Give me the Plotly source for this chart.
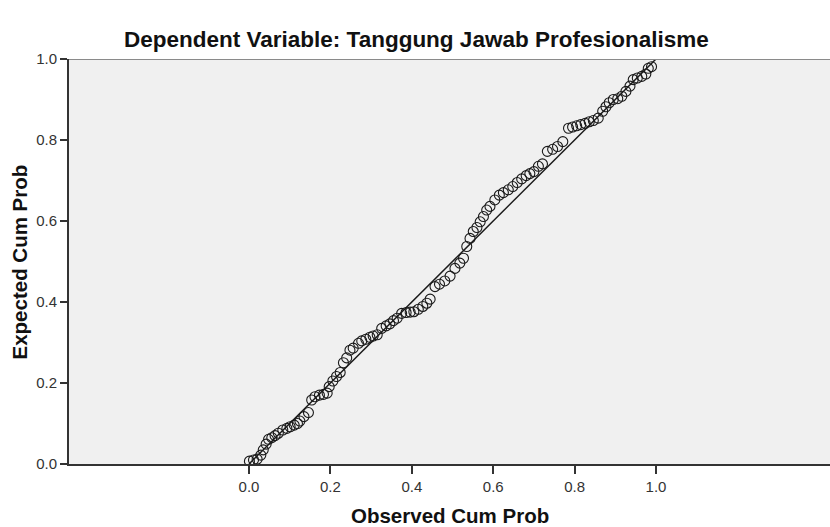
import plotly.graph_objects as go

# Normal P-P plot of regression standardized residuals
observed_cum_prob = [
    0.001, 0.011, 0.020, 0.029, 0.035, 0.042, 0.048, 0.056, 0.064, 0.072,
    0.083, 0.093, 0.101, 0.111, 0.119, 0.125, 0.135, 0.146, 0.154, 0.162,
    0.173, 0.183, 0.192, 0.197, 0.206, 0.215, 0.224, 0.232, 0.240, 0.248,
    0.256, 0.269, 0.277, 0.287, 0.297, 0.305, 0.315, 0.326, 0.337, 0.346,
    0.355, 0.364, 0.375, 0.386, 0.396, 0.405, 0.416, 0.427, 0.437, 0.445,
    0.457, 0.468, 0.481, 0.494, 0.506, 0.518, 0.527, 0.535, 0.543, 0.551,
    0.560, 0.568, 0.576, 0.584, 0.592, 0.604, 0.615, 0.625, 0.637, 0.648,
    0.659, 0.670, 0.681, 0.690, 0.700, 0.711, 0.721, 0.733, 0.746, 0.758,
    0.771, 0.785, 0.795, 0.805, 0.815, 0.826, 0.836, 0.846, 0.858, 0.869,
    0.877, 0.885, 0.895, 0.906, 0.916, 0.926, 0.936, 0.944, 0.954, 0.965,
    0.975, 0.981, 0.989,
]
expected_cum_prob = [
    0.007, 0.010, 0.012, 0.022, 0.035, 0.049, 0.061, 0.065, 0.070, 0.076,
    0.084, 0.088, 0.092, 0.096, 0.100, 0.106, 0.117, 0.127, 0.158, 0.166,
    0.170, 0.172, 0.175, 0.191, 0.205, 0.216, 0.226, 0.250, 0.262, 0.281,
    0.286, 0.298, 0.304, 0.308, 0.313, 0.316, 0.319, 0.335, 0.341, 0.346,
    0.354, 0.360, 0.372, 0.374, 0.375, 0.376, 0.382, 0.389, 0.397, 0.407,
    0.438, 0.444, 0.452, 0.464, 0.483, 0.496, 0.508, 0.537, 0.557, 0.574,
    0.584, 0.598, 0.611, 0.627, 0.636, 0.652, 0.664, 0.670, 0.677, 0.685,
    0.695, 0.704, 0.712, 0.717, 0.722, 0.735, 0.741, 0.772, 0.777, 0.784,
    0.796, 0.829, 0.832, 0.835, 0.838, 0.841, 0.845, 0.848, 0.854, 0.871,
    0.882, 0.892, 0.900, 0.902, 0.908, 0.920, 0.933, 0.949, 0.953, 0.957,
    0.963, 0.977, 0.981,
]
reference_line = [0.0, 1.0]
tick_values = [0.0, 0.2, 0.4, 0.6, 0.8, 1.0]
tick_labels = ["0.0", "0.2", "0.4", "0.6", "0.8", "1.0"]

title_text = "Dependent Variable: Tanggung Jawab Profesionalisme"
x_title = "Observed Cum Prob"
y_title = "Expected Cum Prob"

FONT = "Liberation Sans, Arial, sans-serif"
AXIS_COLOR = "#333333"
MARK_COLOR = "#1a1a1a"

fig = go.Figure()

# y = x reference line
fig.add_trace(go.Scatter(
    x=reference_line, y=reference_line, mode="lines",
    line=dict(color=MARK_COLOR, width=1.5),
    hoverinfo="skip", showlegend=False,
))

# observed vs expected cumulative probabilities
fig.add_trace(go.Scatter(
    x=observed_cum_prob, y=expected_cum_prob, mode="markers",
    marker=dict(symbol="circle-open", size=10, color=MARK_COLOR,
                line=dict(color=MARK_COLOR, width=1.1)),
    showlegend=False,
))

fig.update_layout(
    width=830, height=527,
    margin=dict(l=69, r=0, t=59, b=63),
    paper_bgcolor="white",
    plot_bgcolor="#f0f0f0",
    font=dict(family=FONT, color=AXIS_COLOR),
    xaxis=dict(
        range=[-0.4423, 1.4275], showgrid=False, zeroline=False,
        showline=True, linecolor=AXIS_COLOR, linewidth=2,
        ticks="outside", ticklen=8, tickwidth=1.5, tickcolor=AXIS_COLOR,
        tickvals=tick_values, ticktext=tick_labels,
        tickfont=dict(size=15, color=AXIS_COLOR),
    ),
    yaxis=dict(
        range=[0, 1], showgrid=False, zeroline=False,
        showline=True, linecolor=AXIS_COLOR, linewidth=2,
        ticks="outside", ticklen=7, tickwidth=1.5, tickcolor=AXIS_COLOR,
        tickvals=tick_values, ticktext=tick_labels,
        tickfont=dict(size=15, color=AXIS_COLOR),
    ),
    shapes=[dict(
        type="line", xref="paper", yref="y", x0=0, x1=1, y0=1, y1=1,
        line=dict(color="#8a8a8a", width=2),
    )],
    annotations=[
        dict(text="<b>%s</b>" % title_text, xref="paper", yref="paper",
             x=0.4560, y=1.047, xanchor="center", yanchor="middle",
             showarrow=False, font=dict(size=22.5, color="#111111")),
        dict(text="<b>%s</b>" % x_title, xref="paper", yref="paper",
             x=0.5, y=-0.126, xanchor="center", yanchor="middle",
             showarrow=False, font=dict(size=20.5, color="#111111")),
        dict(text="<b>%s</b>" % y_title, xref="paper", yref="paper",
             x=-0.0644, y=0.5, xanchor="center", yanchor="middle",
             textangle=-90, showarrow=False,
             font=dict(size=20.5, color="#111111")),
    ],
)

fig.write_html("out.html")
